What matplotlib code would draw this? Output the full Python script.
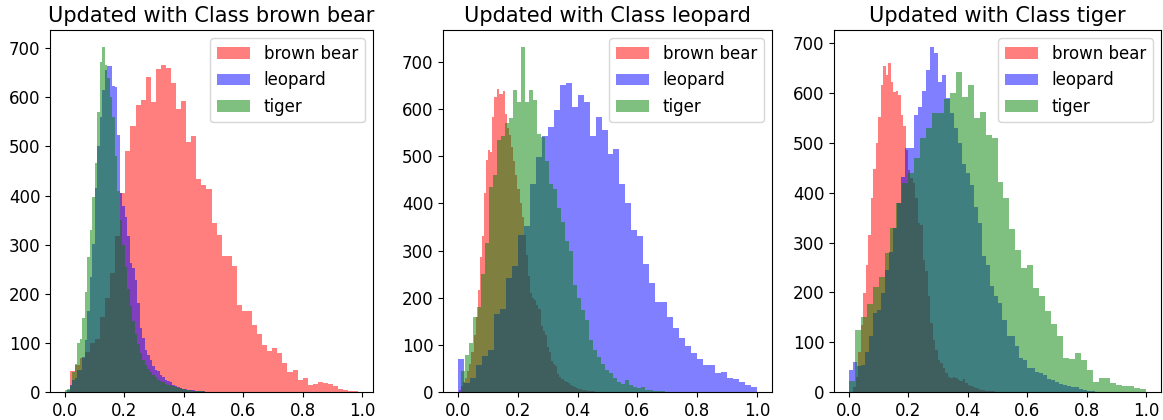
import numpy as np
import matplotlib
matplotlib.use("Agg")
import matplotlib.pyplot as plt

# Histogram counts, one list per class and panel.
# Each series also has a (lo, hi) range; bins split that range evenly.
classes = ["brown bear", "leopard", "tiger"]
colors = ["red", "blue", "green"]
titles = ["Updated with Class brown bear", "Updated with Class leopard",
          "Updated with Class tiger"]

# panel 1 -- updated with brown bear
bear_1 = [43, 54, 70, 82, 100, 108, 153, 192, 242, 318, 405, 491, 542, 585, 594,
          642, 590, 657, 665, 659, 629, 577, 592, 510, 521, 434, 421, 413, 345,
          320, 277, 277, 257, 177, 164, 164, 137, 119, 96, 84, 89, 80, 60, 41,
          45, 24, 29, 14, 16, 21, 19, 16, 12, 6, 5, 2, 2]
leopard_1 = [5, 15, 25, 29, 45, 45, 71, 106, 164, 235, 301, 415, 500, 560, 615,
             655, 664, 663, 623, 622, 524, 405, 378, 357, 317, 262, 252, 229, 181,
             130, 110, 86, 76, 66, 52, 45, 42, 35, 30, 25, 22, 20, 15, 12, 10, 8,
             7, 6, 5, 4, 4, 3, 3, 2, 2, 1, 1, 1, 0, 1, 0, 1, 0, 0, 1, 0, 0, 1]
tiger_1 = [4, 6, 12, 40, 58, 99, 107, 150, 203, 274, 330, 398, 466, 570, 672,
           702, 665, 640, 600, 560, 480, 410, 350, 300, 255, 210, 175, 145, 118,
           97, 80, 66, 55, 47, 40, 34, 30, 25, 22, 20, 17, 15, 14, 12, 10, 9, 8,
           6, 5, 5, 4, 3, 3, 2, 2, 2, 1, 1, 1, 1, 1, 1]
ranges_1 = [(0.017, 0.986), (0.008, 0.008 + 0.0084 * len(leopard_1)),
            (0.0, 0.0084 * len(tiger_1))]

# panel 2 -- updated with leopard
bear_2 = [5, 12, 22, 30, 45, 60, 85, 120, 160, 216, 287, 330, 421, 491, 513,
          509, 583, 626, 643, 631, 631, 638, 590, 560, 545, 520, 490, 460, 430,
          400, 370, 333, 290, 245, 210, 200, 195, 185, 175, 140, 130, 120, 95,
          85, 65, 60, 55, 38, 32, 28, 24, 22, 20, 15, 12, 10, 8, 7, 6, 5, 4, 3,
          3, 2, 2, 1, 1, 1]
leopard_2 = [70, 20, 29, 57, 76, 90, 165, 175, 242, 267, 333, 352, 441, 498, 542,
             562, 597, 650, 656, 604, 629, 615, 542, 583, 556, 504, 516, 441, 401,
             343, 330, 271, 232, 191, 191, 160, 136, 114, 97, 83, 71, 57, 57, 41,
             43, 29, 28, 22, 15, 10]
tiger_2 = [45, 78, 103, 160, 181, 251, 315, 435, 460, 534, 542, 570, 580, 640,
           615, 731, 615, 640, 619, 548, 541, 490, 440, 430, 390, 360, 320, 300,
           227, 200, 174, 153, 110, 89, 75, 60, 47, 40, 30, 22, 18, 25, 15, 11, 8,
           10, 5, 4, 3, 2, 2, 1, 1, 1]
ranges_2 = [(0.003, 0.003 + 0.007 * len(bear_2)), (0.0, 1.0),
            (0.009, 0.009 + 0.0134 * len(tiger_2))]

# panel 3 -- updated with tiger
bear_3 = [10, 30, 80, 135, 198, 255, 315, 389, 447, 499, 551, 616, 654, 636, 660,
          623, 603, 604, 596, 556, 533, 486, 446, 430, 420, 390, 339, 336, 265,
          242, 192, 138, 105, 85, 65, 58, 48, 38, 31, 28, 31, 28, 25, 22, 26, 18,
          15, 12, 10, 8, 6, 5, 4, 3, 3, 2, 2, 1, 1]
leopard_3 = [45, 60, 52, 55, 81, 112, 158, 165, 199, 245, 282, 330, 379, 432, 489,
             489, 556, 573, 604, 646, 692, 680, 623, 636, 590, 560, 530, 500, 458,
             439, 416, 372, 339, 272, 255, 212, 192, 178, 145, 112, 112, 92, 68,
             65, 48, 48, 41, 39, 35, 26, 24, 21, 17, 15, 13, 11, 11, 6, 5, 3, 2, 1]
tiger_3 = [22, 125, 150, 177, 210, 230, 280, 330, 380, 420, 440, 470, 510, 530,
           560, 560, 588, 600, 643, 593, 616, 549, 563, 516, 509, 422, 389, 327,
           285, 249, 255, 208, 192, 163, 136, 112, 68, 66, 78, 65, 45, 21, 29, 28,
           18, 15, 13, 13, 8, 7]
ranges_3 = [(0.015, 0.015 + 0.00836 * len(bear_3)),
            (0.0, 0.0136 * len(leopard_3)), (0.0, 1.0)]

panels = [
    ([bear_1, leopard_1, tiger_1], ranges_1),
    ([bear_2, leopard_2, tiger_2], ranges_2),
    ([bear_3, leopard_3, tiger_3], ranges_3),
]

fig = plt.figure(figsize=(11.63, 4.2), dpi=100)
# axes boxes in pixels (left, right), shared bottom/top
boxes = [(50, 373), (443, 772), (834, 1161)]
bottom, top = 28, 390

for (series, ranges), (x0, x1), title in zip(panels, boxes, titles):
    ax = fig.add_axes([x0 / 1163, bottom / 420, (x1 - x0) / 1163, (top - bottom) / 420])
    for counts, (lo, hi), name, col in zip(series, ranges, classes, colors):
        counts = np.asarray(counts, dtype=float)
        edges = np.linspace(lo, hi, len(counts) + 1)
        centers = (edges[:-1] + edges[1:]) / 2
        ax.hist(centers, bins=edges, weights=counts, color=col, alpha=0.5, label=name)
    ax.set_title(title, fontsize=15)
    ax.tick_params(labelsize=12)
    ax.legend(loc="upper right", fontsize=12)

fig.savefig("out.png", dpi=100)
